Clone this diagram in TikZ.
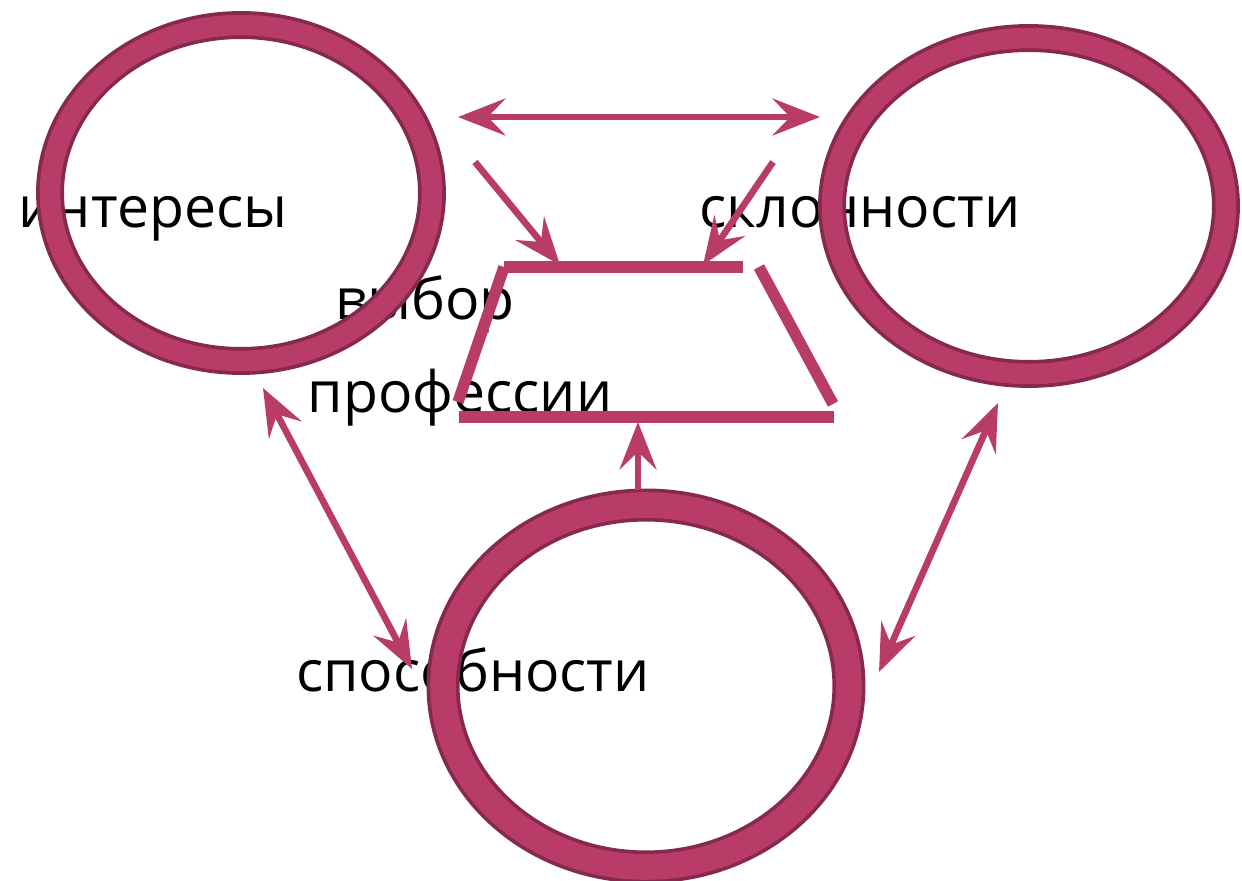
\documentclass[tikz,border=0pt]{standalone}
\usepackage{fontspec}
\setmainfont{Open Sans}
\usetikzlibrary{arrows.meta,shapes.geometric}
\definecolor{ringpink}{RGB}{185,60,104}
\definecolor{ringdark}{RGB}{133,41,79}
\tikzset{
  ring/.style={ellipse, inner sep=0pt, draw=ringdark, line width=2.1pt, double=ringpink, double distance=11.7pt},
  word/.style={inner sep=0pt, anchor=base, font=\fontsize{32.5}{40}\selectfont},
  link/.style={draw=ringpink, line width=3.8pt},
  bar/.style={draw=ringpink, line width=6.5pt},
}
\begin{document}
\begin{tikzpicture}[x=0.02cm, y=-0.02cm, >={Stealth[length=27pt, width=21pt, inset=10pt]}]
        \useasboundingbox (0,0) rectangle (1242,881);
        \node[word] (tint) at (153,228) {интересы};
        \node[word] (tskl) at (860,228) {склонности};
        \node[word] (tvyb) at (425,320) {выбор};
        \node[word] (tpro) at (460,413) {профессии};
        \node[word] (tspo) at (473,692) {способности};
        \node[ring, minimum width=7.64cm, minimum height=6.72cm] (int) at (241,193) {};
        \node[ring, minimum width=7.88cm, minimum height=6.72cm] (skl) at (1029,206) {};
        \node[ring, minimum width=8.12cm, minimum height=7.24cm, double distance=14.6pt] (spo) at (646,686) {};
        \coordinate (h1) at (458,117);
        \coordinate (h2) at (820,117);
        \coordinate (a1) at (475,162);
        \coordinate (a2) at (560,265);
        \coordinate (b1) at (773,162);
        \coordinate (b2) at (703,265);
        \coordinate (u1) at (638,490);
        \coordinate (u2) at (638,422);
        \coordinate (l1) at (263,388);
        \coordinate (l2) at (412,669);
        \coordinate (r1) at (998,403);
        \coordinate (r2) at (879,672);
        \coordinate (tl) at (504,267);
        \coordinate (tr) at (743,267);
        \coordinate (sl) at (458,402);
        \coordinate (rt) at (759,267);
        \coordinate (rb) at (833,404);
        \coordinate (bl) at (459,417);
        \coordinate (br) at (834,417);
        \draw[bar] (tl) -- (tr);
        \draw[bar] (tl) -- (sl);
        \draw[bar] (rt) -- (rb);
        \draw[bar] (bl) -- (br);
        \draw[link, <->] (h1) -- (h2);
        \draw[link, ->] (a1) -- (a2);
        \draw[link, ->] (b1) -- (b2);
        \draw[link, ->] (u1) -- (u2);
        \draw[link, <->] (l1) -- (l2);
        \draw[link, <->] (r1) -- (r2);
\end{tikzpicture}
\end{document}
